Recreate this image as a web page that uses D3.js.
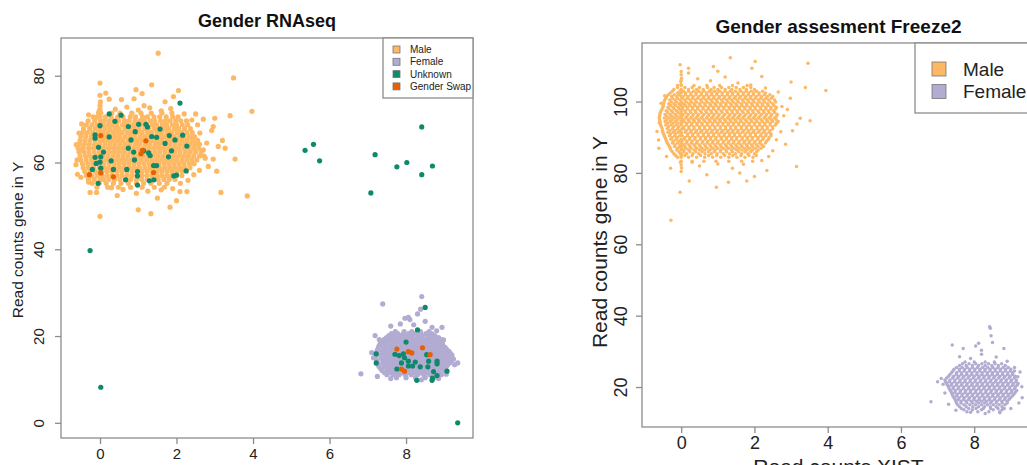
<!DOCTYPE html>
<html>
<head>
<meta charset="utf-8">
<script src="https://cdn.jsdelivr.net/npm/d3@7"></script>
<style>
  body { margin: 0; background: #fff; }
  svg { display: block; font-family: "Liberation Sans", Arial, Helvetica, sans-serif; }
</style>
</head>
<body>
<svg id="chart" width="1027" height="465"></svg>
<script>
// ---------- data : left panel "Gender RNAseq" ----------
// dense cores are written as rows: [y, x1, x2, ...]
const maleRowsL = [
  [71.4, -0.04, 0.02, 0.31, 0.52, 0.83, 1.07, 1.34, 1.62, 1.88],
  [70.5, -0.18, 0.0, 0.14, 0.29, 0.46, 0.6, 0.79, 0.93, 1.11, 1.24, 1.41, 1.56, 1.73, 1.9, 2.04],
  [69.6, -0.31, -0.14, 0.01, 0.11, 0.24, 0.37, 0.49, 0.64, 0.76, 0.91, 1.04, 1.16, 1.31, 1.43, 1.58, 1.71, 1.83, 1.98, 2.11, 2.26],
  [68.7, -0.36, -0.21, -0.07, 0.0, 0.07, 0.2, 0.33, 0.44, 0.59, 0.7, 0.85, 0.96, 1.11, 1.22, 1.37, 1.48, 1.63, 1.74, 1.89, 2.0, 2.15, 2.29],
  [67.8, -0.43, -0.27, -0.13, 0.0, 0.13, 0.26, 0.39, 0.5, 0.65, 0.78, 0.89, 1.02, 1.17, 1.28, 1.43, 1.54, 1.69, 1.8, 1.95, 2.06, 2.21, 2.36],
  [66.9, -0.46, -0.33, -0.19, -0.05, 0.02, 0.08, 0.21, 0.34, 0.46, 0.58, 0.72, 0.84, 0.97, 1.09, 1.23, 1.35, 1.49, 1.61, 1.75, 1.87, 2.01, 2.13, 2.27, 2.41],
  [66.0, -0.5, -0.37, -0.23, -0.1, 0.0, 0.14, 0.27, 0.4, 0.52, 0.66, 0.79, 0.91, 1.05, 1.17, 1.3, 1.43, 1.56, 1.68, 1.82, 1.94, 2.08, 2.2, 2.34, 2.47],
  [65.1, -0.52, -0.39, -0.26, -0.12, 0.01, 0.07, 0.2, 0.33, 0.46, 0.59, 0.73, 0.85, 0.98, 1.11, 1.24, 1.37, 1.5, 1.62, 1.76, 1.88, 2.02, 2.15, 2.28, 2.42, 2.55],
  [64.2, -0.54, -0.41, -0.28, -0.14, -0.01, 0.13, 0.26, 0.39, 0.52, 0.65, 0.78, 0.92, 1.04, 1.18, 1.3, 1.44, 1.56, 1.7, 1.82, 1.96, 2.09, 2.22, 2.36, 2.49, 2.6],
  [63.3, -0.57, -0.44, -0.3, -0.17, -0.03, 0.02, 0.09, 0.22, 0.35, 0.48, 0.61, 0.74, 0.88, 1.0, 1.14, 1.27, 1.4, 1.53, 1.66, 1.79, 1.92, 2.05, 2.19, 2.32, 2.45, 2.58],
  [62.4, -0.55, -0.42, -0.29, -0.15, -0.02, 0.12, 0.25, 0.38, 0.51, 0.64, 0.78, 0.9, 1.04, 1.17, 1.3, 1.43, 1.56, 1.7, 1.83, 1.96, 2.09, 2.23, 2.36, 2.5, 2.64],
  [61.5, -0.52, -0.38, -0.25, -0.11, 0.0, 0.08, 0.21, 0.34, 0.47, 0.6, 0.73, 0.87, 0.99, 1.13, 1.26, 1.39, 1.52, 1.65, 1.78, 1.92, 2.05, 2.18, 2.31, 2.45, 2.6, 2.72],
  [60.6, -0.5, -0.36, -0.22, -0.09, 0.04, 0.17, 0.3, 0.43, 0.56, 0.69, 0.82, 0.95, 1.08, 1.22, 1.35, 1.48, 1.61, 1.74, 1.87, 2.0, 2.14, 2.27, 2.4, 2.53],
  [59.7, -0.46, -0.32, -0.19, -0.05, 0.01, 0.1, 0.24, 0.37, 0.5, 0.63, 0.76, 0.89, 1.02, 1.15, 1.28, 1.41, 1.54, 1.68, 1.81, 1.94, 2.07, 2.2, 2.34, 2.46],
  [58.8, -0.44, -0.3, -0.16, -0.02, 0.12, 0.25, 0.38, 0.51, 0.64, 0.77, 0.9, 1.03, 1.17, 1.3, 1.43, 1.56, 1.69, 1.82, 1.95, 2.08, 2.21, 2.35],
  [57.9, -0.4, -0.26, -0.12, 0.0, 0.06, 0.19, 0.32, 0.45, 0.58, 0.71, 0.84, 0.97, 1.1, 1.23, 1.36, 1.49, 1.62, 1.75, 1.88, 2.01, 2.14, 2.26],
  [57.0, -0.36, -0.22, -0.08, 0.05, 0.18, 0.31, 0.44, 0.57, 0.7, 0.83, 0.96, 1.09, 1.22, 1.35, 1.48, 1.61, 1.74, 1.87, 2.0, 2.14],
  [56.1, -0.3, -0.15, 0.0, 0.09, 0.23, 0.38, 0.52, 0.66, 0.8, 0.95, 1.09, 1.23, 1.38, 1.52, 1.67, 1.81, 1.96],
  [55.2, -0.2, -0.02, 0.16, 0.35, 0.55, 0.74, 0.95, 1.14, 1.33, 1.55, 1.75],
  [54.3, -0.08, 0.2, 0.48, 0.8, 1.1, 1.42, 1.68]
];
const maleOutL = [
  [1.52, 85.2], [3.49, 79.5], [0, 78.3], [1.35, 77.9], [0.94, 76.8], [2.05, 76.6], [1.92, 75.2],
  [3.97, 71.8], [3.4, 70.8], [3.0, 70.2], [0.24, 74.6], [0.56, 74.5], [0.89, 74.7], [1.15, 73.1],
  [2.96, 68.3], [2.92, 67.4], [2.61, 66.8], [2.79, 64.5], [3.09, 63.7], [3.27, 63.3], [3.53, 60.8],
  [2.96, 60.8], [2.83, 59.1], [3.16, 53.1], [3.85, 52.3], [2.09, 53.3], [2.27, 53.3], [1.83, 49.7],
  [1.33, 48.2], [1.0, 49.1], [0, 47.6], [-0.63, 59.5], [-0.59, 57.3], [-0.26, 53.1], [-0.09, 53.1],
  [-0.48, 62.9], [0, 72.2], [0, 73.1], [0.01, 74.0], [-0.02, 71.9], [0, 75.5], [0.4, 72.3],
  [0.7, 72.8], [1.0, 72.1], [1.3, 72.6], [1.6, 71.9], [1.85, 72.4], [2.2, 71.2], [2.4, 69.8],
  [2.55, 68.7], [2.7, 62.9], [2.75, 61.0], [2.6, 58.2], [2.45, 57.2], [2.3, 55.9], [2.1, 55.2],
  [1.9, 54.0], [0.6, 53.8], [0.3, 54.2], [-0.3, 55.5], [-0.5, 56.6], [-0.6, 60.6], [-0.62, 64.1],
  [-0.55, 66.8], [-0.48, 68.9], [-0.3, 71.0], [1.6, 53.7], [0.95, 52.9], [1.25, 53.4], [0.45, 52.4],
  [2.0, 51.2], [1.5, 51.8], [3.2, 65.1], [3.05, 58.0], [2.5, 71.2], [2.7, 70.0], [1.1, 75.9],
  [1.7, 74.0], [0.15, 76.0], [-0.1, 70.4]
];
const femaleRowsL = [
  [21.0, 7.72, 7.95, 8.15, 8.38, 8.6],
  [20.55, 7.62, 7.78, 7.93, 8.07, 8.22, 8.37, 8.52, 8.67],
  [20.1, 7.55, 7.7, 7.86, 8.0, 8.14, 8.3, 8.44, 8.6, 8.75],
  [19.65, 7.49, 7.62, 7.76, 7.9, 8.03, 8.17, 8.31, 8.44, 8.58, 8.72, 8.85],
  [19.2, 7.42, 7.56, 7.69, 7.83, 7.97, 8.1, 8.24, 8.38, 8.51, 8.65, 8.78, 8.92],
  [18.75, 7.38, 7.53, 7.66, 7.8, 7.94, 8.07, 8.2, 8.34, 8.47, 8.61, 8.74, 8.88],
  [18.3, 7.33, 7.46, 7.6, 7.73, 7.87, 8.0, 8.14, 8.27, 8.41, 8.54, 8.68, 8.81, 8.95],
  [17.85, 7.3, 7.47, 7.61, 7.74, 7.88, 8.01, 8.15, 8.28, 8.42, 8.55, 8.69, 8.82, 8.96],
  [17.4, 7.28, 7.41, 7.54, 7.68, 7.81, 7.95, 8.08, 8.22, 8.35, 8.49, 8.62, 8.76, 8.89, 9.02],
  [16.95, 7.26, 7.44, 7.58, 7.71, 7.85, 7.98, 8.12, 8.25, 8.39, 8.52, 8.66, 8.79, 8.93, 9.06],
  [16.5, 7.24, 7.37, 7.51, 7.64, 7.78, 7.91, 8.05, 8.18, 8.32, 8.45, 8.59, 8.72, 8.86, 8.99, 9.12],
  [16.05, 7.22, 7.4, 7.54, 7.67, 7.81, 7.94, 8.08, 8.21, 8.35, 8.48, 8.62, 8.75, 8.89, 9.02, 9.15],
  [15.6, 7.2, 7.33, 7.47, 7.6, 7.74, 7.87, 8.01, 8.14, 8.28, 8.41, 8.55, 8.68, 8.82, 8.95, 9.09, 9.2],
  [15.15, 7.21, 7.4, 7.54, 7.67, 7.81, 7.94, 8.08, 8.21, 8.35, 8.48, 8.62, 8.75, 8.89, 9.02, 9.16],
  [14.7, 7.22, 7.36, 7.49, 7.63, 7.76, 7.9, 8.03, 8.17, 8.3, 8.44, 8.57, 8.71, 8.84, 8.98, 9.11, 9.24],
  [14.25, 7.23, 7.42, 7.56, 7.69, 7.83, 7.96, 8.1, 8.23, 8.37, 8.5, 8.64, 8.77, 8.91, 9.04, 9.18],
  [13.8, 7.25, 7.39, 7.52, 7.66, 7.79, 7.93, 8.06, 8.2, 8.33, 8.47, 8.6, 8.74, 8.87, 9.01, 9.14],
  [13.35, 7.27, 7.45, 7.59, 7.72, 7.86, 7.99, 8.13, 8.26, 8.4, 8.53, 8.67, 8.8, 8.94, 9.08],
  [12.9, 7.3, 7.44, 7.57, 7.71, 7.84, 7.98, 8.11, 8.25, 8.38, 8.52, 8.65, 8.79, 8.92, 9.05],
  [12.45, 7.34, 7.51, 7.64, 7.78, 7.91, 8.05, 8.18, 8.32, 8.45, 8.59, 8.72, 8.86, 8.98],
  [12.0, 7.38, 7.52, 7.65, 7.79, 7.92, 8.06, 8.19, 8.33, 8.46, 8.6, 8.73, 8.87, 9.0],
  [11.55, 7.44, 7.6, 7.74, 7.9, 8.06, 8.22, 8.38, 8.54, 8.7, 8.85],
  [11.1, 7.5, 7.66, 7.82, 7.98, 8.14, 8.3, 8.46, 8.62, 8.78, 8.92],
  [10.4, 7.75, 8.0, 8.25, 8.5, 8.72]
];
const femaleOutL = [
  [6.82, 11.3], [7.39, 27.4], [8.41, 29.1], [7.97, 24.1], [8.06, 24.3], [8.38, 26.2], [7.19, 20.1],
  [8.94, 22.0], [8.68, 22.0], [8.98, 19.1], [9.27, 13.4], [9.15, 16.0], [7.25, 10.7], [7.1, 16.2],
  [7.15, 15.0], [7.6, 22.3], [7.85, 22.8], [8.2, 22.6], [8.5, 23.4], [8.8, 21.2], [9.35, 13.8],
  [9.05, 11.2], [8.85, 10.2], [8.4, 9.9], [7.6, 10.2], [7.3, 19.2], [8.3, 25.1], [8.1, 23.8]
];
const unknownL = [
  [2.09, 73.7], [0.24, 71.2], [0.55, 70.9], [0.39, 69.5], [0, 68.5], [0.74, 68.3], [1.01, 68.8],
  [1.2, 68.8], [1.57, 67.7], [1.24, 68.2], [-0.13, 66.4], [-0.13, 65.6], [0.24, 65.9], [0.81, 65.2],
  [0.92, 67.1], [1.35, 66.0], [1.48, 65.8], [1.81, 66.2], [2.16, 66.3], [1.96, 65.2], [1.7, 64.4],
  [2.27, 63.8], [-0.04, 63.5], [0.74, 63.3], [1.14, 62.7], [1.27, 62.2], [1.87, 62.7], [0.09, 62.4],
  [0.88, 62.4], [-0.13, 61.2], [0.02, 61.3], [1.31, 61.6], [1.79, 61.3], [0.29, 60.4], [0.9, 60.6],
  [0, 60.1], [1.4, 59.3], [1.48, 59.3], [-0.1, 59.8], [0.02, 58.7], [-0.2, 58.4], [0.35, 58.4],
  [0.7, 58.4], [0.98, 57.9], [2.25, 58.1], [2.0, 57.1], [1.93, 56.9], [0.98, 56.9], [1.29, 55.8],
  [1.41, 56.0], [0.67, 56.0], [-0.05, 55.2], [0.98, 54.8],
  [5.36, 62.8], [5.58, 64.2], [5.74, 60.4], [7.19, 61.8], [7.08, 53.0], [7.76, 59.0], [8.02, 60.0],
  [8.41, 68.2], [8.41, 57.2], [8.69, 59.2],
  [-0.26, 39.7], [0.02, 8.2], [9.35, 0],
  [8.5, 26.6], [8.3, 21.4], [8.0, 18.6], [7.22, 15.9], [7.22, 13.8], [7.71, 15.8], [7.82, 15.5],
  [7.93, 15.9], [7.96, 15.0], [7.88, 13.8], [8.06, 14.2], [8.17, 13.1], [8.24, 14.0], [8.37, 12.9],
  [8.57, 12.9], [8.59, 14.2], [8.54, 15.7], [8.81, 14.2], [8.81, 13.6], [8.72, 11.8], [8.81, 10.9],
  [8.69, 10.3], [8.68, 9.8], [9.07, 11.9], [8.28, 9.8], [7.76, 12.4], [8.06, 13.1]
];
const swapL = [
  [0.02, 66.2], [-0.28, 57.2], [0.02, 57.6], [0.35, 56.7], [1.2, 65.0], [1.11, 62.8], [1.07, 62.0],
  [1.4, 57.7], [7.76, 17.0], [8.06, 16.4], [8.15, 16.1], [8.43, 17.3], [8.63, 15.7], [7.88, 12.4],
  [7.96, 11.9]
];

// ---------- data : right panel "Gender assesment Freeze2" ----------
const maleRowsR = [
  [104.5, -0.1, 0.0, 0.35, 0.7, 1.05, 1.4, 1.8],
  [103.9, -0.1, 0.1, 0.3, 0.5, 0.72, 0.9, 1.1, 1.3, 1.5, 1.7, 1.9],
  [103.4, -0.2, 0.0, 0.2, 0.42, 0.6, 0.82, 1.0, 1.2, 1.38, 1.6, 1.78, 2.0],
  [102.9, -0.24, -0.03, 0.06, 0.2, 0.34, 0.48, 0.62, 0.77, 0.91, 1.05, 1.2, 1.34, 1.48, 1.63, 1.77, 1.91, 2.06, 2.22],
  [102.4, -0.3, -0.1, 0.0, 0.12, 0.27, 0.41, 0.55, 0.7, 0.84, 0.98, 1.12, 1.27, 1.41, 1.55, 1.7, 1.84, 1.98, 2.13, 2.3],
  [101.9, -0.35, -0.19, -0.05, 0.12, 0.26, 0.4, 0.55, 0.69, 0.83, 0.97, 1.12, 1.26, 1.4, 1.55, 1.69, 1.83, 1.97, 2.12, 2.27, 2.42],
  [101.4, -0.4, -0.26, -0.12, 0.0, 0.05, 0.19, 0.33, 0.48, 0.62, 0.76, 0.9, 1.05, 1.19, 1.33, 1.48, 1.62, 1.76, 1.9, 2.05, 2.19, 2.35, 2.5],
  [100.9, -0.42, -0.24, -0.1, 0.03, 0.17, 0.31, 0.45, 0.6, 0.74, 0.88, 1.02, 1.17, 1.31, 1.45, 1.59, 1.74, 1.88, 2.02, 2.17, 2.31, 2.46],
  [100.4, -0.45, -0.31, -0.17, -0.03, 0.1, 0.24, 0.38, 0.53, 0.67, 0.81, 0.95, 1.1, 1.24, 1.38, 1.52, 1.67, 1.81, 1.95, 2.1, 2.24, 2.38, 2.55],
  [99.9, -0.47, -0.27, -0.13, 0.01, 0.14, 0.28, 0.42, 0.57, 0.71, 0.85, 0.99, 1.14, 1.28, 1.42, 1.56, 1.71, 1.85, 1.99, 2.14, 2.28, 2.43, 2.58],
  [99.4, -0.48, -0.34, -0.2, -0.06, 0.0, 0.07, 0.21, 0.35, 0.5, 0.64, 0.78, 0.92, 1.07, 1.21, 1.35, 1.49, 1.64, 1.78, 1.92, 2.07, 2.21, 2.35, 2.5],
  [98.9, -0.49, -0.29, -0.15, -0.01, 0.11, 0.24, 0.38, 0.52, 0.66, 0.81, 0.95, 1.09, 1.23, 1.38, 1.52, 1.66, 1.8, 1.95, 2.09, 2.23, 2.38, 2.53],
  [98.4, -0.5, -0.36, -0.22, -0.08, 0.04, 0.17, 0.31, 0.45, 0.59, 0.74, 0.88, 1.02, 1.16, 1.31, 1.45, 1.59, 1.73, 1.88, 2.02, 2.16, 2.31, 2.45, 2.6],
  [97.9, -0.52, -0.33, -0.19, -0.05, 0.03, 0.17, 0.31, 0.45, 0.6, 0.74, 0.88, 1.02, 1.17, 1.31, 1.45, 1.59, 1.74, 1.88, 2.02, 2.17, 2.31, 2.45, 2.58],
  [97.4, -0.55, -0.41, -0.27, -0.13, 0.0, 0.1, 0.24, 0.38, 0.52, 0.67, 0.81, 0.95, 1.09, 1.24, 1.38, 1.52, 1.66, 1.81, 1.95, 2.09, 2.24, 2.38, 2.52],
  [96.9, -0.57, -0.37, -0.23, -0.09, 0.0, 0.12, 0.26, 0.4, 0.55, 0.69, 0.83, 0.97, 1.12, 1.26, 1.4, 1.54, 1.69, 1.83, 1.97, 2.12, 2.26, 2.4, 2.55],
  [96.4, -0.58, -0.44, -0.3, -0.16, -0.02, 0.05, 0.19, 0.33, 0.47, 0.62, 0.76, 0.9, 1.04, 1.19, 1.33, 1.47, 1.61, 1.76, 1.9, 2.04, 2.19, 2.33, 2.47, 2.62],
  [95.9, -0.59, -0.39, -0.25, -0.11, 0.02, 0.16, 0.3, 0.44, 0.58, 0.73, 0.87, 1.01, 1.15, 1.3, 1.44, 1.58, 1.72, 1.87, 2.01, 2.15, 2.3, 2.44, 2.6],
  [95.4, -0.6, -0.46, -0.32, -0.18, -0.04, 0.0, 0.12, 0.26, 0.4, 0.54, 0.69, 0.83, 0.97, 1.11, 1.26, 1.4, 1.54, 1.68, 1.83, 1.97, 2.11, 2.26, 2.4, 2.55],
  [94.9, -0.59, -0.39, -0.25, -0.11, 0.05, 0.19, 0.33, 0.47, 0.61, 0.76, 0.9, 1.04, 1.18, 1.33, 1.47, 1.61, 1.75, 1.9, 2.04, 2.18, 2.33, 2.47, 2.6],
  [94.4, -0.58, -0.44, -0.3, -0.16, -0.01, 0.08, 0.22, 0.36, 0.5, 0.65, 0.79, 0.93, 1.07, 1.22, 1.36, 1.5, 1.64, 1.79, 1.93, 2.07, 2.22, 2.36, 2.5, 2.65],
  [93.9, -0.57, -0.37, -0.23, -0.09, 0.01, 0.15, 0.29, 0.43, 0.57, 0.72, 0.86, 1.0, 1.14, 1.29, 1.43, 1.57, 1.71, 1.86, 2.0, 2.14, 2.29, 2.43, 2.6],
  [93.4, -0.56, -0.42, -0.28, -0.14, 0.0, 0.14, 0.28, 0.43, 0.57, 0.71, 0.85, 1.0, 1.14, 1.28, 1.42, 1.57, 1.71, 1.85, 2.0, 2.14, 2.28, 2.43, 2.57],
  [92.9, -0.54, -0.35, -0.21, -0.07, 0.07, 0.21, 0.35, 0.5, 0.64, 0.78, 0.92, 1.07, 1.21, 1.35, 1.49, 1.64, 1.78, 1.92, 2.07, 2.21, 2.35, 2.5],
  [92.4, -0.52, -0.38, -0.24, -0.1, 0.02, 0.07, 0.21, 0.35, 0.5, 0.64, 0.78, 0.92, 1.07, 1.21, 1.35, 1.49, 1.64, 1.78, 1.92, 2.07, 2.21, 2.35, 2.5],
  [91.9, -0.51, -0.31, -0.17, -0.03, 0.14, 0.28, 0.42, 0.57, 0.71, 0.85, 0.99, 1.14, 1.28, 1.42, 1.56, 1.71, 1.85, 1.99, 2.14, 2.28, 2.43],
  [91.4, -0.5, -0.36, -0.22, -0.08, 0.0, 0.11, 0.25, 0.39, 0.53, 0.68, 0.82, 0.96, 1.1, 1.25, 1.39, 1.53, 1.67, 1.82, 1.96, 2.1, 2.25, 2.4],
  [90.9, -0.48, -0.29, -0.15, 0.0, 0.18, 0.32, 0.46, 0.61, 0.75, 0.89, 1.03, 1.18, 1.32, 1.46, 1.6, 1.75, 1.89, 2.03, 2.18, 2.32, 2.45],
  [90.4, -0.46, -0.32, -0.18, -0.04, 0.03, 0.17, 0.31, 0.46, 0.6, 0.74, 0.88, 1.03, 1.17, 1.31, 1.45, 1.6, 1.74, 1.88, 2.03, 2.17, 2.31, 2.45],
  [89.9, -0.44, -0.25, -0.11, 0.1, 0.24, 0.38, 0.53, 0.67, 0.81, 0.95, 1.1, 1.24, 1.38, 1.52, 1.67, 1.81, 1.95, 2.1, 2.24, 2.4],
  [89.4, -0.42, -0.28, -0.14, 0.0, 0.09, 0.23, 0.37, 0.52, 0.66, 0.8, 0.94, 1.09, 1.23, 1.37, 1.51, 1.66, 1.8, 1.94, 2.09, 2.23, 2.38],
  [88.9, -0.4, -0.21, -0.07, 0.02, 0.16, 0.3, 0.44, 0.59, 0.73, 0.87, 1.01, 1.16, 1.3, 1.44, 1.59, 1.73, 1.87, 2.02, 2.16, 2.33],
  [88.4, -0.38, -0.24, -0.1, 0.01, 0.14, 0.28, 0.42, 0.57, 0.71, 0.85, 0.99, 1.14, 1.28, 1.42, 1.56, 1.71, 1.85, 1.99, 2.14, 2.3],
  [87.9, -0.35, -0.17, -0.03, 0.07, 0.21, 0.35, 0.49, 0.64, 0.78, 0.92, 1.06, 1.21, 1.35, 1.49, 1.63, 1.78, 1.92, 2.06, 2.2],
  [87.4, -0.32, -0.18, -0.04, 0.0, 0.1, 0.24, 0.38, 0.52, 0.67, 0.81, 0.95, 1.09, 1.24, 1.38, 1.52, 1.66, 1.81, 1.95, 2.1, 2.25],
  [86.9, -0.3, -0.1, 0.0, 0.13, 0.27, 0.42, 0.57, 0.71, 0.86, 1.0, 1.15, 1.29, 1.44, 1.58, 1.73, 1.87, 2.02, 2.18],
  [86.4, -0.28, -0.12, 0.0, 0.06, 0.2, 0.35, 0.5, 0.64, 0.79, 0.93, 1.08, 1.22, 1.37, 1.51, 1.66, 1.8, 1.95, 2.1],
  [85.9, -0.24, -0.06, 0.08, 0.24, 0.4, 0.57, 0.74, 0.9, 1.07, 1.24, 1.4, 1.57, 1.74, 1.9, 2.06],
  [85.4, -0.2, -0.02, 0.01, 0.15, 0.32, 0.48, 0.65, 0.82, 0.98, 1.15, 1.32, 1.48, 1.65, 1.82, 2.0],
  [84.9, -0.15, 0.0, 0.1, 0.3, 0.53, 0.75, 0.97, 1.19, 1.41, 1.63, 1.85, 2.05],
  [84.4, -0.1, 0.0, 0.2, 0.42, 0.64, 0.86, 1.08, 1.3, 1.52, 1.74, 1.96],
  [83.3, 0.0, 0.3, 0.62, 0.95, 1.3, 1.65, 1.95]
];
const maleOutR = [
  [0, 108.4], [0, 107.5], [0.01, 106.5], [-0.01, 105.6], [0, 104.8], [0, 82.2], [0.01, 81.4],
  [0, 80.4], [-0.02, 83.0], [0, 106.0],
  [1.34, 112.3], [2.02, 111.2], [3.46, 110.7], [-0.03, 110.3], [0.2, 109.3], [0.88, 109.8],
  [1.93, 109.3], [3.95, 103.1], [3.39, 103.9], [3.0, 105.5], [2.98, 100.9], [3.25, 95.3],
  [3.52, 94.6], [3.16, 93.7], [3.04, 91.8], [2.85, 88.0], [3.15, 81.8], [2.39, 84.6], [2.34, 80.7],
  [1.79, 77.7], [1.29, 77.4], [0.96, 76.0], [0.22, 77.7], [-0.03, 74.6], [-0.28, 66.7],
  [-0.66, 91.6], [-0.62, 89.2], [-0.61, 86.9], [-0.29, 81.3], [0.45, 106.4], [0.8, 105.8],
  [1.2, 106.9], [1.55, 105.2], [1.9, 104.6], [2.3, 103.8], [2.65, 102.7], [2.75, 98.6], [2.8, 96.0],
  [2.72, 91.5], [2.6, 89.3], [2.5, 86.2], [2.2, 83.5], [1.7, 82.4], [1.4, 81.3], [1.0, 82.5],
  [0.5, 81.9], [0.3, 83.0], [-0.4, 84.6], [-0.6, 94.0], [-0.55, 99.5], [-0.45, 101.6], [2.9, 97.8],
  [1.6, 80.0], [0.7, 79.5], [2.0, 79.0], [0.2, 108.0], [1.0, 108.5], [2.2, 107.0]
];
const femaleRowsR = [
  [27.0, 7.75, 8.0, 8.3, 8.55],
  [26.5, 7.68, 7.86, 8.04, 8.21, 8.39, 8.57, 8.75],
  [26.0, 7.6, 7.78, 7.95, 8.12, 8.3, 8.48, 8.66, 8.85],
  [25.5, 7.52, 7.67, 7.81, 7.95, 8.09, 8.23, 8.37, 8.51, 8.65, 8.79, 8.93],
  [25.0, 7.45, 7.6, 7.74, 7.88, 8.02, 8.16, 8.3, 8.44, 8.58, 8.72, 8.86, 9.0],
  [24.5, 7.42, 7.59, 7.73, 7.87, 8.01, 8.15, 8.29, 8.43, 8.57, 8.71, 8.85, 8.99, 9.1],
  [24.0, 7.38, 7.52, 7.66, 7.8, 7.94, 8.08, 8.22, 8.36, 8.5, 8.64, 8.78, 8.92, 9.05],
  [23.5, 7.34, 7.51, 7.65, 7.79, 7.93, 8.07, 8.21, 8.35, 8.49, 8.63, 8.77, 8.91, 9.05],
  [23.0, 7.3, 7.44, 7.58, 7.72, 7.86, 8.0, 8.14, 8.28, 8.42, 8.56, 8.7, 8.84, 8.98, 9.12],
  [22.5, 7.25, 7.41, 7.55, 7.69, 7.83, 7.97, 8.11, 8.25, 8.39, 8.53, 8.67, 8.81, 8.95, 9.09],
  [22.0, 7.2, 7.34, 7.48, 7.62, 7.76, 7.9, 8.04, 8.18, 8.32, 8.46, 8.6, 8.74, 8.88, 9.02, 9.15],
  [21.5, 7.22, 7.32, 7.46, 7.6, 7.74, 7.88, 8.02, 8.16, 8.3, 8.44, 8.58, 8.72, 8.86, 9.0, 9.14],
  [21.0, 7.25, 7.39, 7.53, 7.67, 7.81, 7.95, 8.09, 8.23, 8.37, 8.51, 8.65, 8.79, 8.93, 9.07, 9.2],
  [20.5, 7.27, 7.37, 7.51, 7.65, 7.79, 7.93, 8.07, 8.21, 8.35, 8.49, 8.63, 8.77, 8.91, 9.05, 9.17],
  [20.0, 7.3, 7.44, 7.58, 7.72, 7.86, 8.0, 8.14, 8.28, 8.42, 8.56, 8.7, 8.84, 8.98, 9.12],
  [19.5, 7.32, 7.42, 7.56, 7.7, 7.84, 7.98, 8.12, 8.26, 8.4, 8.54, 8.68, 8.82, 8.96, 9.1],
  [19.0, 7.35, 7.49, 7.63, 7.77, 7.91, 8.05, 8.19, 8.33, 8.47, 8.61, 8.75, 8.89, 9.03, 9.16],
  [18.5, 7.38, 7.47, 7.61, 7.75, 7.89, 8.03, 8.17, 8.31, 8.45, 8.59, 8.73, 8.87, 9.01, 9.12],
  [18.0, 7.4, 7.54, 7.68, 7.82, 7.96, 8.1, 8.24, 8.38, 8.52, 8.66, 8.8, 8.94, 9.08],
  [17.5, 7.42, 7.52, 7.66, 7.8, 7.94, 8.08, 8.22, 8.36, 8.5, 8.64, 8.78, 8.92, 9.04],
  [17.0, 7.45, 7.59, 7.73, 7.87, 8.01, 8.15, 8.29, 8.43, 8.57, 8.71, 8.85, 8.99],
  [16.5, 7.48, 7.57, 7.71, 7.85, 7.99, 8.13, 8.27, 8.41, 8.55, 8.69, 8.83, 8.95],
  [16.0, 7.5, 7.64, 7.78, 7.92, 8.06, 8.2, 8.34, 8.48, 8.62, 8.76, 8.9],
  [15.5, 7.52, 7.64, 7.8, 7.96, 8.12, 8.28, 8.44, 8.6, 8.76, 8.9],
  [15.0, 7.55, 7.72, 7.88, 8.04, 8.2, 8.36, 8.52, 8.68, 8.84],
  [14.5, 7.6, 7.78, 7.96, 8.12, 8.28, 8.44, 8.6, 8.76],
  [14.0, 7.65, 7.85, 8.05, 8.25, 8.45, 8.65, 8.82],
  [13.6, 7.72, 7.95, 8.2, 8.52, 8.76],
  [13.1, 7.8, 8.1, 8.4, 8.7]
];
const femaleOutR = [
  [8.42, 36.9], [8.44, 36.5], [8.46, 34.4], [7.4, 31.8], [8.12, 32.3], [8.04, 31.5], [8.81, 30.8],
  [6.82, 15.9], [9.19, 22.9], [9.31, 17.0], [7.1, 22.4], [7.15, 20.8], [7.2, 18.3], [7.0, 21.5],
  [7.6, 28.5], [7.9, 28.0], [8.2, 29.2], [8.6, 28.4], [8.9, 27.2], [9.1, 25.5], [9.25, 24.2],
  [9.3, 20.1], [9.22, 15.5], [9.0, 14.0], [8.7, 12.8], [8.3, 12.6], [7.9, 12.9], [7.5, 13.5],
  [7.3, 15.2], [8.5, 32.5], [8.2, 30.3], [7.7, 30.8]
];

const xTicks = [0, 2, 4, 6, 8];
const yTicksL = [0, 20, 40, 60, 80];
const yTicksR = [20, 40, 60, 80, 100];
const legendL = ['Male', 'Female', 'Unknown', 'Gender Swap'];
const legendR = ['Male', 'Female'];

const colors = {
  Male: '#FDB863',
  Female: '#B2ABD2',
  Unknown: '#0E8A6B',
  'Gender Swap': '#E66101'
};

function rowsToPoints(rows) {
  return rows.flatMap(r => r.slice(1).map(x => [x, r[0]]));
}

const svg = d3.select('#chart');

function drawPanel(p) {
  const x = d3.scaleLinear().domain(p.xDomain).range([p.box.l, p.box.r]);
  const y = d3.scaleLinear().domain(p.yDomain).range([p.box.b, p.box.t]);
  const g = svg.append('g');

  // points
  p.layers.forEach(layer => {
    g.append('g')
      .selectAll('circle')
      .data(layer.pts)
      .join('circle')
      .attr('cx', d => x(d[0]))
      .attr('cy', d => y(d[1]))
      .attr('r', p.r)
      .attr('fill', colors[layer.name]);
  });

  // box
  g.append('rect')
    .attr('x', p.box.l).attr('y', p.box.t)
    .attr('width', p.box.r - p.box.l).attr('height', p.box.b - p.box.t)
    .attr('fill', 'none').attr('stroke', '#8c8c8c').attr('stroke-width', 1.3);

  // x axis
  const axisX = d3.axisBottom(x).tickValues(xTicks).tickSize(6).tickFormat(d3.format('d'));
  const gx = g.append('g').attr('transform', `translate(0,${p.box.b})`).call(axisX);
  gx.select('.domain').remove();
  gx.selectAll('line').attr('stroke', '#8c8c8c').attr('stroke-width', 1.3);
  gx.selectAll('text')
    .attr('y', p.xLabY).attr('dy', 0)
    .attr('fill', '#222').style('font-size', p.tickFont + 'px');

  // y axis, labels parallel to axis
  const axisY = d3.axisLeft(y).tickValues(p.yTicks).tickSize(6).tickFormat(d3.format('d'));
  const gy = g.append('g').attr('transform', `translate(${p.box.l},0)`).call(axisY);
  gy.select('.domain').remove();
  gy.selectAll('line').attr('stroke', '#8c8c8c').attr('stroke-width', 1.3);
  gy.selectAll('text')
    .attr('transform', 'rotate(-90)')
    .attr('x', 0).attr('y', -p.yLabOff).attr('dy', 0)
    .attr('text-anchor', 'middle')
    .attr('fill', '#222').style('font-size', p.tickFont + 'px');
  g.selectAll('.tick text').attr('font-family', null);

  // title
  g.append('text')
    .attr('x', (p.box.l + p.box.r) / 2).attr('y', p.titleY)
    .attr('text-anchor', 'middle').attr('font-weight', 'bold')
    .attr('fill', '#111').style('font-size', p.titleFont + 'px')
    .text(p.title);

  // y label
  g.append('text')
    .attr('transform', `translate(${p.yTitleX},${p.yTitleY}) rotate(-90)`)
    .attr('text-anchor', 'middle')
    .attr('fill', '#222').style('font-size', p.labFont + 'px')
    .text('Read counts gene in Y');

  if (p.xTitle) {
    g.append('text')
      .attr('x', (p.box.l + p.box.r) / 2).attr('y', p.xTitleY)
      .attr('text-anchor', 'middle')
      .attr('fill', '#222').style('font-size', p.labFont + 'px')
      .text(p.xTitle);
  }

  // legend
  const L = p.legend;
  const lg = g.append('g');
  lg.append('rect')
    .attr('x', L.x).attr('y', L.y).attr('width', L.w).attr('height', L.h)
    .attr('fill', '#fff').attr('stroke', '#8c8c8c').attr('stroke-width', 1.3);
  const items = lg.selectAll('g.item').data(L.labels).join('g')
    .attr('class', 'item')
    .attr('transform', (d, i) => `translate(0,${L.y0 + i * L.dy})`);
  items.append('rect')
    .attr('x', L.sx).attr('y', -L.s / 2).attr('width', L.s).attr('height', L.s)
    .attr('fill', d => colors[d]).attr('stroke', '#777').attr('stroke-width', 0.8);
  items.append('text')
    .attr('x', L.tx).attr('y', 0).attr('dy', '0.35em')
    .attr('fill', '#222').style('font-size', L.font + 'px')
    .text(d => d);
}

drawPanel({
  box: { l: 61, r: 473, t: 38, b: 438 },
  xDomain: [-1.02, 9.75],
  yDomain: [-3.5, 88.7],
  yTicks: yTicksL,
  r: 2.6,
  tickFont: 15,
  xLabY: 21,
  yLabOff: 17,
  title: 'Gender RNAseq',
  titleY: 27,
  titleFont: 18,
  labFont: 15.5,
  yTitleX: 23,
  yTitleY: 240,
  layers: [
    { name: 'Male', pts: rowsToPoints(maleRowsL).concat(maleOutL) },
    { name: 'Female', pts: rowsToPoints(femaleRowsL).concat(femaleOutL) },
    { name: 'Unknown', pts: unknownL },
    { name: 'Gender Swap', pts: swapL }
  ],
  legend: { x: 383, y: 38, w: 90, h: 60, labels: legendL, y0: 49.5, dy: 12.3, sx: 393, s: 7, tx: 410, font: 10 }
});

drawPanel({
  box: { l: 642, r: 1035, t: 43, b: 427 },
  xDomain: [-1.07, 9.66],
  yDomain: [8.8, 116.4],
  yTicks: yTicksR,
  r: 1.75,
  tickFont: 18,
  xLabY: 21.5,
  yLabOff: 15,
  title: 'Gender assesment Freeze2',
  titleY: 33,
  titleFont: 19,
  labFont: 21,
  yTitleX: 607,
  yTitleY: 242,
  xTitle: 'Read counts XIST',
  xTitleY: 474,
  layers: [
    { name: 'Male', pts: rowsToPoints(maleRowsR).concat(maleOutR) },
    { name: 'Female', pts: rowsToPoints(femaleRowsR).concat(femaleOutR) }
  ],
  legend: { x: 915, y: 43, w: 120, h: 70, labels: legendR, y0: 69, dy: 22.5, sx: 932, s: 14, tx: 963, font: 19 }
});
</script>
</body>
</html>
